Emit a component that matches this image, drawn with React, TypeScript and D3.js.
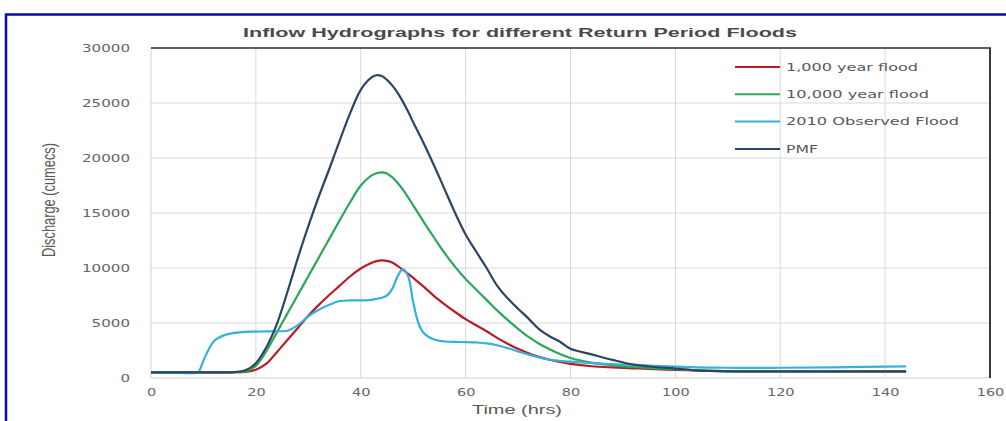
import React, { useEffect, useRef } from "react";
import * as d3 from "d3";

// time axis (hrs) shared by all four hydrographs
const hours = [0, 4, 8, 9, 10, 12, 14, 16, 18, 20, 22, 24, 26, 28, 30, 32, 34, 36, 38, 40, 42, 43, 44, 45, 46, 47, 48, 49, 50, 51, 52, 54, 56, 58, 60, 62, 64, 66, 68, 70, 72, 74, 76, 78, 80, 84, 88, 92, 96, 100, 104, 108, 112, 120, 130, 144];

// discharge (cumecs)
const flood1000 = [520, 520, 520, 520, 520, 520, 520, 525, 560, 750, 1300, 2350, 3450, 4550, 5650, 6650, 7550, 8400, 9250, 9950, 10450, 10620, 10700, 10650, 10500, 10200, 9850, 9480, 9100, 8700, 8300, 7450, 6700, 6000, 5350, 4800, 4250, 3650, 3120, 2650, 2250, 1920, 1660, 1460, 1290, 1070, 960, 880, 800, 740, 680, 630, 600, 590, 590, 590];
const flood10000 = [520, 520, 520, 520, 520, 520, 520, 530, 600, 1100, 2450, 4150, 5850, 7550, 9250, 10950, 12650, 14350, 16000, 17500, 18400, 18620, 18700, 18600, 18250, 17750, 17150, 16450, 15700, 14950, 14200, 12750, 11350, 10100, 9000, 8050, 7100, 6150, 5280, 4470, 3730, 3120, 2620, 2180, 1820, 1400, 1150, 1000, 880, 800, 700, 630, 600, 590, 590, 590];
const observed2010 = [480, 480, 440, 520, 1600, 3350, 3900, 4100, 4200, 4220, 4230, 4250, 4300, 4800, 5600, 6200, 6650, 7000, 7050, 7050, 7100, 7200, 7300, 7500, 8100, 9200, 9900, 9300, 6900, 5000, 4100, 3500, 3320, 3280, 3270, 3230, 3150, 2980, 2720, 2420, 2120, 1870, 1680, 1560, 1480, 1360, 1260, 1190, 1100, 1030, 970, 940, 920, 930, 970, 1050];
const pmf = [520, 520, 520, 520, 520, 520, 520, 540, 700, 1350, 2800, 4900, 7800, 10900, 13800, 16500, 19000, 21600, 24100, 26200, 27300, 27520, 27450, 27100, 26600, 25950, 25150, 24250, 23250, 22300, 21350, 19300, 17150, 15000, 13050, 11500, 10000, 8400, 7250, 6300, 5400, 4450, 3800, 3300, 2650, 2150, 1650, 1220, 1000, 860, 700, 640, 610, 600, 600, 600];

const seriesNames = ["1,000 year flood", "10,000 year flood", "2010 Observed Flood", "PMF"];
const xTicks = [0, 20, 40, 60, 80, 100, 120, 140, 160];
const yTicks = [0, 5000, 10000, 15000, 20000, 25000, 30000];

const colors = ["#b91d24", "#2ba75a", "#36b1dc", "#2d4465"];
const legendTextWidths = [132, 143, 173, 32];

const App = () => {
  const svgRef = useRef<SVGSVGElement>(null);

  useEffect(() => {
    drawChart();
  }, []);

  const width = 1006;
  const height = 421;
  const plot = { left: 151, right: 990, top: 48, bottom: 378 };

  function drawChart() {
    const svg = d3.select(svgRef.current);
    svg.selectAll("*").remove();

    const x = d3.scaleLinear().domain([0, 160]).range([plot.left, plot.right]);
    const y = d3.scaleLinear().domain([0, 30000]).range([plot.bottom, plot.top]);

    // blue outer frame (cropped by the picture)
    svg
      .append("rect")
      .attr("x", 6)
      .attr("y", 14.5)
      .attr("width", 1100)
      .attr("height", 500)
      .attr("fill", "none")
      .attr("stroke", "#0b0bb0")
      .attr("stroke-width", 2.5);

    // gridlines
    svg
      .append("g")
      .selectAll("line")
      .data(yTicks.filter((d) => d > 0 && d < 30000))
      .join("line")
      .attr("x1", plot.left)
      .attr("x2", plot.right)
      .attr("y1", (d) => y(d))
      .attr("y2", (d) => y(d))
      .attr("stroke", "#d9d9d9");

    svg
      .append("g")
      .selectAll("line")
      .data(xTicks.filter((d) => d > 0 && d < 160))
      .join("line")
      .attr("x1", (d) => x(d))
      .attr("x2", (d) => x(d))
      .attr("y1", plot.top)
      .attr("y2", plot.bottom)
      .attr("stroke", "#d9d9d9");

    // left + bottom axes light, top + right dark
    svg.append("line").attr("x1", plot.left).attr("x2", plot.left).attr("y1", plot.top).attr("y2", plot.bottom).attr("stroke", "#d0d0d0");
    svg.append("line").attr("x1", plot.left).attr("x2", plot.right).attr("y1", plot.bottom).attr("y2", plot.bottom).attr("stroke", "#d0d0d0");
    svg.append("line").attr("x1", plot.left).attr("x2", plot.right + 1).attr("y1", plot.top).attr("y2", plot.top).attr("stroke", "#2a2a2a").attr("stroke-width", 1.5);
    svg.append("line").attr("x1", plot.right).attr("x2", plot.right).attr("y1", plot.top).attr("y2", plot.bottom).attr("stroke", "#3a3a3a").attr("stroke-width", 2);

    // tick labels via d3 axes
    const yAxis = svg
      .append("g")
      .attr("transform", `translate(${plot.left},0)`)
      .call(d3.axisLeft(y).tickValues(yTicks).tickSize(0).tickPadding(21).tickFormat((d) => String(d)));
    yAxis.select(".domain").remove();
    yAxis
      .selectAll("text")
      .attr("font-family", "DejaVu Sans")
      .attr("font-size", 10.4)
      .attr("fill", "#666")
      .attr("textLength", (d: any) => String(d).length * 9.6)
      .attr("lengthAdjust", "spacingAndGlyphs");

    const xAxis = svg
      .append("g")
      .attr("transform", `translate(0,${plot.bottom})`)
      .call(d3.axisBottom(x).tickValues(xTicks).tickSize(0).tickPadding(11).tickFormat((d) => String(d)));
    xAxis.select(".domain").remove();
    xAxis
      .selectAll("text")
      .attr("font-family", "DejaVu Sans")
      .attr("font-size", 10.4)
      .attr("fill", "#666")
      .attr("textLength", (d: any) => String(d).length * 9.2)
      .attr("lengthAdjust", "spacingAndGlyphs");

    // hydrograph lines
    const seriesValues = [flood1000, flood10000, observed2010, pmf];
    const line = d3
      .line<number>()
      .x((_, i) => x(hours[i]))
      .y((d) => y(d))
      .curve(d3.curveCatmullRom.alpha(0.5));

    svg
      .append("g")
      .selectAll("path")
      .data(seriesValues)
      .join("path")
      .attr("d", (d) => line(d))
      .attr("fill", "none")
      .attr("stroke", (_, i) => colors[i])
      .attr("stroke-width", 2.2)
      .attr("stroke-linejoin", "round");

    // legend
    const legend = svg
      .append("g")
      .selectAll("g")
      .data(seriesNames)
      .join("g")
      .attr("transform", (_, i) => `translate(735,${67 + i * 27.3})`);
    legend
      .append("line")
      .attr("x1", 0)
      .attr("x2", 45)
      .attr("stroke", (_, i) => colors[i])
      .attr("stroke-width", 2);
    legend
      .append("text")
      .attr("x", 51)
      .attr("dy", "0.35em")
      .attr("font-family", "DejaVu Sans")
      .attr("font-size", 11)
      .attr("fill", "#595959")
      .attr("textLength", (_, i) => legendTextWidths[i])
      .attr("lengthAdjust", "spacingAndGlyphs")
      .text((d) => d);

    // titles
    svg
      .append("text")
      .attr("x", 520)
      .attr("y", 37)
      .attr("text-anchor", "middle")
      .attr("font-family", "Liberation Sans")
      .attr("font-weight", "bold")
      .attr("font-size", 13)
      .attr("fill", "#4a4a4a")
      .attr("textLength", 554)
      .attr("lengthAdjust", "spacingAndGlyphs")
      .text("Inflow Hydrographs for different Return Period Floods");

    svg
      .append("text")
      .attr("x", 517)
      .attr("y", 414)
      .attr("text-anchor", "middle")
      .attr("font-family", "Liberation Sans")
      .attr("font-size", 13)
      .attr("fill", "#595959")
      .attr("textLength", 90)
      .attr("lengthAdjust", "spacingAndGlyphs")
      .text("Time (hrs)");

    svg
      .append("text")
      .attr("transform", "translate(55,200) rotate(-90)")
      .attr("text-anchor", "middle")
      .attr("font-family", "Liberation Sans")
      .attr("font-size", 19)
      .attr("fill", "#595959")
      .attr("textLength", 114)
      .attr("lengthAdjust", "spacingAndGlyphs")
      .text("Discharge (cumecs)");
  }

  return (
    <svg
      ref={svgRef}
      width={width}
      height={height}
      style={{ position: "absolute", left: 0, top: 0, background: "#fff" }}
    ></svg>
  );
};

export default App;
